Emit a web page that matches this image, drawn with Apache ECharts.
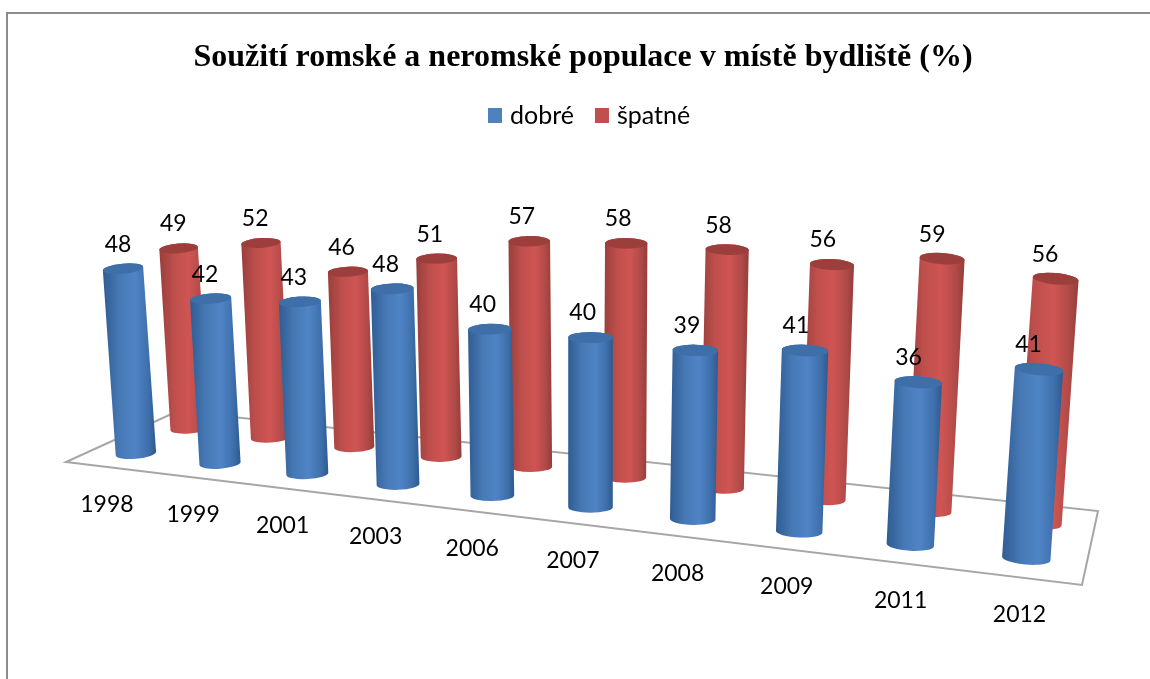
<!DOCTYPE html>
<html><head><meta charset="utf-8">
<style>html,body{margin:0;padding:0;background:#fff}#c{width:1150px;height:679px}</style>
<script src="https://cdn.jsdelivr.net/npm/echarts@6/dist/echarts.min.js"></script>
</head><body><div id="c"></div>
<script>
var years = ['1998','1999','2001','2003','2006','2007','2008','2009','2011','2012'];
var dobre = [48,42,43,48,40,40,39,41,36,41];
var spatne = [49,52,46,51,57,58,58,56,59,56];
var titleText = 'Soužití romské a neromské populace v místě bydliště (%)';

// floor quad on screen: front-left, front-right, back-right, back-left
var Q = [[66,462],[1082,585],[1098,511],[178,411]];
var FONT = 'Lato';
var GRID = {left:0, top:100, width:1000, height:400};
var Q_PERSP = 1.025;

var H = (function(){
  var x0=Q[0][0],y0=Q[0][1],x1=Q[1][0],y1=Q[1][1],x2=Q[2][0],y2=Q[2][1],x3=Q[3][0],y3=Q[3][1];
  var dx1=x1-x2,dx2=x3-x2,sx=x0-x1+x2-x3,dy1=y1-y2,dy2=y3-y2,sy=y0-y1+y2-y3;
  var den=dx1*dy2-dx2*dy1,g=(sx*dy2-dx2*sy)/den,h=(dx1*sy-sx*dy1)/den;
  var a=x1-x0+g*x1,b=x3-x0+h*x3,c=x0,d=y1-y0+g*y1,e=y3-y0+h*y3,f=y0;
  return function(u,v){var w=g*u+h*v+1;return [(a*u+b*v+c)/w,(d*u+e*v+f)/w];};
})();

function cyl(depth, colors, isFront){
  return function(params, api){
    var i=api.value(0), val=api.value(1);
    var p0=api.coord([i,0]), p1=api.coord([i,val]), unit=api.size([1,1])[1];
    var u=(p0[0]-GRID.left)/GRID.width;
    u=u/(u+Q_PERSP*(1-u));
    var b=H(u,depth);
    b[0]+=isFront?0:1.5;
    var s=0.666+0.0000315*b[0]+0.0071*b[1];
    var hh=(p0[1]-p1[1])/unit*s*0.99;
    var t=[b[0]+(b[0]-590)*hh/6500, b[1]-hh];
    var r=5.2*s, ry=r*0.25;
    function tilt(x){return (x-590)/450*5*Math.PI/180;}
    var at=tilt(t[0]), ab=tilt(b[0]);
    var TL=[t[0]-r*Math.cos(at),t[1]-r*Math.sin(at)],TR=[t[0]+r*Math.cos(at),t[1]+r*Math.sin(at)];
    var BL=[b[0]-r*Math.cos(ab),b[1]-r*Math.sin(ab)],BR=[b[0]+r*Math.cos(ab),b[1]+r*Math.sin(ab)];
    var dt=at*180/Math.PI, db=ab*180/Math.PI;
    var body='M'+TL+' A'+r+' '+ry+' '+dt+' 0 1 '+TR+' L'+BR+' A'+r+' '+ry+' '+db+' 0 1 '+BL+' Z';
    var cap='M'+TL+' A'+r+' '+ry+' '+dt+' 1 1 '+TR+' A'+r+' '+ry+' '+dt+' 1 1 '+TL+' Z';
    var lx=t[0]-5-(t[0]-124)*0.006, ly=t[1]-24.5;
    var kids=[
      {type:'path',shape:{pathData:body},z2:1,style:{fill:{type:'linear',x:0,y:0,x2:1,y2:0,colorStops:colors.stops}}},
      {type:'path',shape:{pathData:cap},z2:2,style:{fill:colors.cap}},
      {type:'text',z2:50,style:{x:lx,y:ly,text:String(val),fill:'#000',font:'23px '+FONT,align:'center',verticalAlign:'middle'}}
    ];
    if(isFront){
      kids.push({type:'text',z2:50,style:{x:b[0]-29+(b[0]-137)*0.025,y:b[1]+51+(b[0]-137)*0.0056,text:api.value(2),fill:'#000',font:'23px '+FONT,align:'center',verticalAlign:'middle'}});
    }
    return {type:'group',children:kids};
  };
}
var blue={cap:'#3f6fa8',stops:[{offset:0,color:'#2f5c92'},{offset:.3,color:'#4678b4'},{offset:.6,color:'#4f84c6'},{offset:.85,color:'#3f70ac'},{offset:1,color:'#2d5a90'}]};
var red={cap:'#9c3f3c',stops:[{offset:0,color:'#983f3c'},{offset:.3,color:'#bf4f4c'},{offset:.6,color:'#cf5553'},{offset:.85,color:'#b04a47'},{offset:1,color:'#943d3a'}]};
function rows(vals){return vals.map(function(v,i){return [i,v,years[i]];});}

var floor=[H(0,0),H(1,0),H(1,1),H(0,1)];
var chart=echarts.init(document.getElementById('c'),null,{renderer:'canvas'});
chart.setOption({
  animation:false,
  backgroundColor:'#fff',
  title:{text:titleText,left:578,top:37,textAlign:'center',textStyle:{fontFamily:'Liberation Serif',fontWeight:'bold',fontSize:32,color:'#000'}},
  legend:{left:483,top:98,itemWidth:14,itemHeight:15,itemGap:21,icon:'rect',selectedMode:false,
    textStyle:{fontFamily:FONT,fontSize:25,color:'#000',padding:[0,0,0,3]},data:['dobré','špatné']},
  grid:{left:GRID.left,top:GRID.top,width:GRID.width,height:GRID.height},
  xAxis:{type:'category',data:years,show:false},
  yAxis:{type:'value',min:0,max:100,show:false},
  graphic:[
    {type:'rect',z:-5,shape:{x:7,y:13,width:1300,height:800},style:{fill:'#fff',stroke:'#8c8c8c',lineWidth:2}},
    {type:'polygon',z:-4,shape:{points:floor},style:{fill:'none',stroke:'#a6a6a6',lineWidth:2}}
  ],
  series:[
    {name:'špatné',type:'custom',z:3,data:rows(spatne),itemStyle:{color:'#c0504d'},renderItem:cyl(0.72,red,false),encode:{x:0,y:1}},
    {name:'dobré',type:'custom',z:4,data:rows(dobre),itemStyle:{color:'#4f81bd'},renderItem:cyl(0.24,blue,true),encode:{x:0,y:1}}
  ]
});
</script></body></html>
